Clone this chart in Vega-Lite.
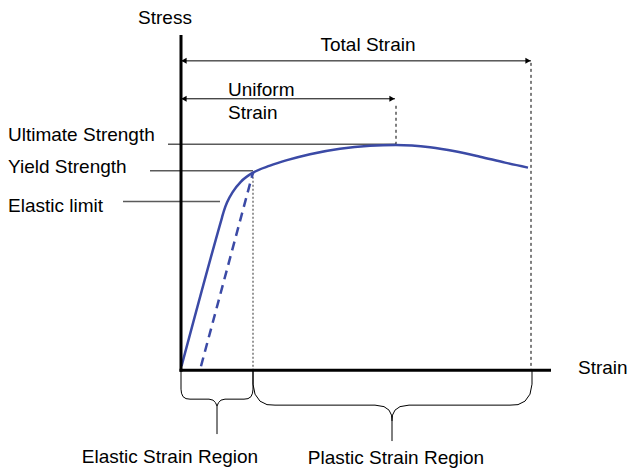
{
  "$schema": "https://vega.github.io/schema/vega-lite/v6.json",
  "width": 628,
  "height": 468,
  "autosize": {"type": "fit", "contains": "padding"},
  "padding": 0,
  "background": "white",
  "config": {"view": {"stroke": null}},
  "datasets": {
    "rules": [
      {"kind": "axis", "x": -1.5, "y": 0, "x2": 370, "y2": 0},
      {"kind": "axis", "x": 0, "y": -1.5, "x2": 0, "y2": 336},
      {"kind": "dim", "x": 0, "y": 310, "x2": 350, "y2": 310},
      {"kind": "dim", "x": 0, "y": 272, "x2": 214, "y2": 272},
      {"kind": "extent", "x": 215, "y": 265, "x2": 215, "y2": 226},
      {"kind": "extent", "x": 350, "y": 308, "x2": 350, "y2": 0},
      {"kind": "yield", "x": 72, "y": 198, "x2": 72, "y2": 0},
      {"kind": "leader", "x": -13, "y": 226.5, "x2": 215, "y2": 226.5},
      {"kind": "leader", "x": -31, "y": 200, "x2": 72, "y2": 200},
      {"kind": "leader", "x": -58, "y": 169, "x2": 39, "y2": 169},
      {"kind": "unload", "x": 20, "y": 4, "x2": 72, "y2": 198}
    ],
    "curve": [
      {"i": 0, "x": 0.5, "y": 4},
      {"i": 1, "x": 41, "y": 153},
      {"i": 2, "x": 43, "y": 160},
      {"i": 3, "x": 46, "y": 168},
      {"i": 4, "x": 52, "y": 179},
      {"i": 5, "x": 60, "y": 189},
      {"i": 6, "x": 72, "y": 198},
      {"i": 7, "x": 89, "y": 205},
      {"i": 8, "x": 106, "y": 210.5},
      {"i": 9, "x": 129, "y": 216.5},
      {"i": 10, "x": 159, "y": 222},
      {"i": 11, "x": 189, "y": 225},
      {"i": 12, "x": 215, "y": 225.8},
      {"i": 13, "x": 249, "y": 223.5},
      {"i": 14, "x": 274, "y": 219.5},
      {"i": 15, "x": 299, "y": 214},
      {"i": 16, "x": 324, "y": 208},
      {"i": 17, "x": 347, "y": 203}
    ],
    "braces": [
      {"s": "eL", "i": 0, "x": 0, "y": 0},
      {"s": "eL", "i": 1, "x": 0, "y": -19},
      {"s": "eL", "i": 2, "x": 0.5, "y": -23},
      {"s": "eL", "i": 3, "x": 2, "y": -26.5},
      {"s": "eL", "i": 4, "x": 5, "y": -28.5},
      {"s": "eL", "i": 5, "x": 9, "y": -29},
      {"s": "eL", "i": 6, "x": 28, "y": -29},
      {"s": "eL", "i": 7, "x": 32, "y": -30},
      {"s": "eL", "i": 8, "x": 34.5, "y": -32.5},
      {"s": "eL", "i": 9, "x": 36, "y": -36},
      {"s": "eL", "i": 10, "x": 36, "y": -64},
      {"s": "eR", "i": 0, "x": 36, "y": -36},
      {"s": "eR", "i": 1, "x": 37.5, "y": -32.5},
      {"s": "eR", "i": 2, "x": 40, "y": -30},
      {"s": "eR", "i": 3, "x": 44, "y": -29},
      {"s": "eR", "i": 4, "x": 63, "y": -29},
      {"s": "eR", "i": 5, "x": 67, "y": -28.5},
      {"s": "eR", "i": 6, "x": 70, "y": -26.5},
      {"s": "eR", "i": 7, "x": 71.5, "y": -23},
      {"s": "eR", "i": 8, "x": 72, "y": -19},
      {"s": "eR", "i": 9, "x": 72, "y": 0},
      {"s": "pL", "i": 0, "x": 72, "y": 0},
      {"s": "pL", "i": 1, "x": 72, "y": -14},
      {"s": "pL", "i": 2, "x": 74, "y": -24},
      {"s": "pL", "i": 3, "x": 79, "y": -31},
      {"s": "pL", "i": 4, "x": 86, "y": -34.5},
      {"s": "pL", "i": 5, "x": 94, "y": -35},
      {"s": "pL", "i": 6, "x": 194, "y": -35},
      {"s": "pL", "i": 7, "x": 203, "y": -36.5},
      {"s": "pL", "i": 8, "x": 208, "y": -40},
      {"s": "pL", "i": 9, "x": 210.5, "y": -45},
      {"s": "pL", "i": 10, "x": 211, "y": -51},
      {"s": "pL", "i": 11, "x": 211, "y": -71},
      {"s": "pR", "i": 0, "x": 211, "y": -51},
      {"s": "pR", "i": 1, "x": 211.5, "y": -45},
      {"s": "pR", "i": 2, "x": 214, "y": -40},
      {"s": "pR", "i": 3, "x": 219, "y": -36.5},
      {"s": "pR", "i": 4, "x": 228, "y": -35},
      {"s": "pR", "i": 5, "x": 329, "y": -35},
      {"s": "pR", "i": 6, "x": 337, "y": -34.5},
      {"s": "pR", "i": 7, "x": 344, "y": -31},
      {"s": "pR", "i": 8, "x": 349, "y": -24},
      {"s": "pR", "i": 9, "x": 351, "y": -14},
      {"s": "pR", "i": 10, "x": 351, "y": 0}
    ],
    "arrows": [
      {"dir": "left", "x": 0, "y": 310},
      {"dir": "left", "x": 0, "y": 272},
      {"dir": "right", "x": 350, "y": 310},
      {"dir": "right", "x": 214, "y": 272}
    ],
    "labels": [
      {"align": "center", "text": "Stress", "x": -16, "y": 353},
      {"align": "left", "text": "Strain", "x": 397, "y": 2},
      {"align": "center", "text": "Total Strain", "x": 187, "y": 326},
      {"align": "left", "text": "Uniform", "x": 47, "y": 281},
      {"align": "left", "text": "Strain", "x": 47, "y": 258},
      {"align": "left", "text": "Ultimate Strength", "x": -173, "y": 236},
      {"align": "left", "text": "Yield Strength", "x": -173, "y": 204},
      {"align": "left", "text": "Elastic limit", "x": -173, "y": 165},
      {"align": "center", "text": "Elastic Strain Region", "x": -11, "y": -87},
      {"align": "center", "text": "Plastic Strain Region", "x": 215, "y": -88}
    ]
  },
  "encoding": {
    "x": {"field": "x", "type": "quantitative", "scale": {"domain": [-181, 447], "nice": false, "zero": false}, "axis": null},
    "y": {"field": "y", "type": "quantitative", "scale": {"domain": [-97, 371], "nice": false, "zero": false}, "axis": null}
  },
  "layer": [
    {
      "data": {"name": "rules"},
      "transform": [{"filter": "datum.kind === 'leader'"}],
      "mark": {"type": "rule", "color": "#5a5a5a", "strokeWidth": 1.5},
      "encoding": {"x2": {"field": "x2"}, "y2": {"field": "y2"}}
    },
    {
      "data": {"name": "rules"},
      "transform": [{"filter": "datum.kind === 'yield'"}],
      "mark": {"type": "rule", "color": "#777777", "strokeWidth": 1.5, "strokeDash": [2, 2]},
      "encoding": {"x2": {"field": "x2"}, "y2": {"field": "y2"}}
    },
    {
      "data": {"name": "rules"},
      "transform": [{"filter": "datum.kind === 'extent'"}],
      "mark": {"type": "rule", "color": "black", "strokeWidth": 1, "strokeDash": [3, 3]},
      "encoding": {"x2": {"field": "x2"}, "y2": {"field": "y2"}}
    },
    {
      "data": {"name": "rules"},
      "transform": [{"filter": "datum.kind === 'dim'"}],
      "mark": {"type": "rule", "color": "black", "strokeWidth": 1},
      "encoding": {"x2": {"field": "x2"}, "y2": {"field": "y2"}}
    },
    {
      "data": {"name": "rules"},
      "transform": [{"filter": "datum.kind === 'unload'"}],
      "mark": {"type": "rule", "color": "#3b4aa6", "strokeWidth": 2.5, "strokeDash": [9, 6]},
      "encoding": {"x2": {"field": "x2"}, "y2": {"field": "y2"}}
    },
    {
      "data": {"name": "curve"},
      "mark": {"type": "line", "color": "#3b4aa6", "strokeWidth": 2.5, "interpolate": "monotone"},
      "encoding": {"order": {"field": "i", "type": "quantitative"}}
    },
    {
      "data": {"name": "braces"},
      "mark": {"type": "line", "color": "black", "strokeWidth": 1},
      "encoding": {"detail": {"field": "s", "type": "nominal"}, "order": {"field": "i", "type": "quantitative"}}
    },
    {
      "data": {"name": "rules"},
      "transform": [{"filter": "datum.kind === 'axis'"}],
      "mark": {"type": "rule", "color": "black", "strokeWidth": 3},
      "encoding": {"x2": {"field": "x2"}, "y2": {"field": "y2"}}
    },
    {
      "data": {"name": "arrows"},
      "transform": [{"filter": "datum.dir === 'left'"}],
      "mark": {"type": "point", "shape": "triangle-left", "filled": true, "color": "black", "size": 36, "opacity": 1, "xOffset": 3}
    },
    {
      "data": {"name": "arrows"},
      "transform": [{"filter": "datum.dir === 'right'"}],
      "mark": {"type": "point", "shape": "triangle-right", "filled": true, "color": "black", "size": 36, "opacity": 1, "xOffset": -3}
    },
    {
      "data": {"name": "labels"},
      "transform": [{"filter": "datum.align === 'left'"}],
      "mark": {"type": "text", "align": "left", "baseline": "middle", "font": "Liberation Sans", "fontSize": 19, "color": "black"},
      "encoding": {"text": {"field": "text"}}
    },
    {
      "data": {"name": "labels"},
      "transform": [{"filter": "datum.align === 'center'"}],
      "mark": {"type": "text", "align": "center", "baseline": "middle", "font": "Liberation Sans", "fontSize": 19, "color": "black"},
      "encoding": {"text": {"field": "text"}}
    }
  ]
}
